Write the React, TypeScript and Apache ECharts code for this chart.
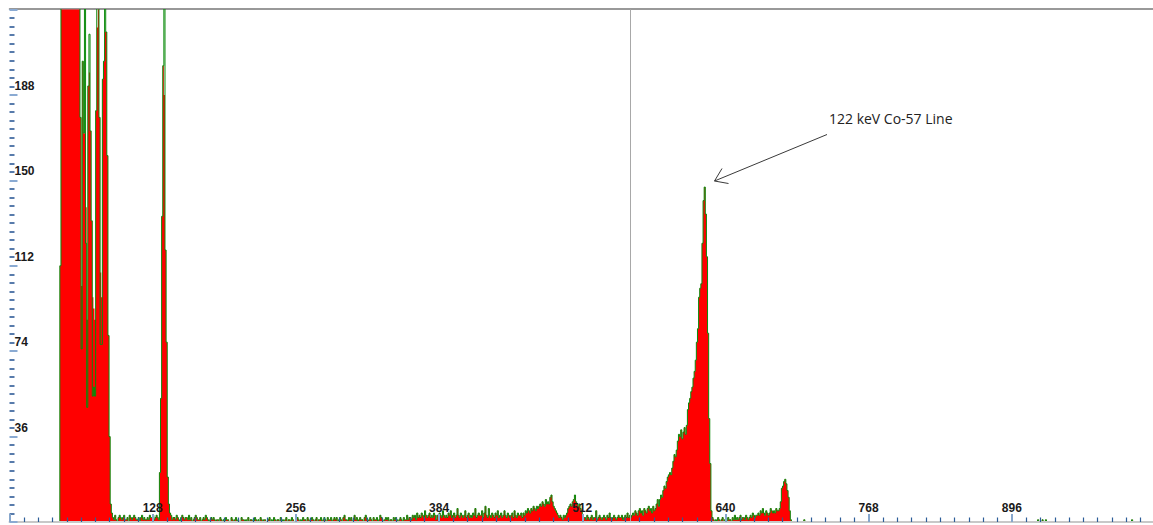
import React, { useEffect, useRef } from 'react';
import * as echarts from 'echarts';

// ---- axes ----
const CHANNELS = 1024;
const xTickStep = 128;
const yMax = 228;
const yTickStep = 38;
const yTickLabels = ['36', '74', '112', '150', '188'];
const cursorChannel = 555;
const annotationText = '122 keV Co-57 Line';

// ---- spectrum (red fill counts per channel), segments with their first channel ----
const lowClusterStart = 45;
const lowCluster = [
  114, 250, 262, 270, 268, 255, 260, 265, 258, 249, 262, 270, 255, 248, 260, 252, 240, 236,
  180, 105, 205, 173, 173, 140, 90, 194, 200, 174, 134, 100, 95, 90, 183, 220, 250, 180, 111, 100,
  197, 205, 218, 218, 163, 83, 38, 8,
];
const noiseAStart = 91;
const noiseA = [4, 2, 1, 3, 1, 0, 2, 3, 2, 1, 2, 3, 1, 1, 2, 0, 3, 2, 1, 2, 3, 2, 1, 1, 2, 0, 2, 3, 1, 2, 1, 1, 2, 1, 3, 2, 2, 3, 1, 2, 3, 2, 1];
const peak128Start = 134;
const peak128 = [22, 55, 136, 203, 190, 121, 80, 20, 8, 4];
const noiseBStart = 144;
const noiseB = [
  3, 1, 2, 2, 1, 3, 2, 1, 0, 2, 3, 2, 1, 2, 2, 1, 3, 1, 2, 0, 1, 2, 3, 2, 1, 1, 2, 0, 1, 2, 1, 3, 2, 1, 0, 1, 2, 1, 2, 1,
  0, 1, 1, 0, 2, 1, 0, 1, 0, 2, 1, 1, 0, 0, 2, 1, 0, 1, 2, 0, 1, 0, 0, 2, 1, 1, 0, 1, 0, 2, 0, 1, 1, 0, 0, 2, 1, 0, 1, 0, 2, 1, 0, 1, 1, 0, 0, 1, 2, 0,
  1, 0, 2, 1, 0, 1, 1, 0, 2, 0, 1, 0, 1, 2, 0, 1, 1, 0, 2, 1, 0, 0, 1, 2, 1, 0, 1, 0, 2, 1, 1, 0, 2, 1, 0, 1, 2, 1, 0, 1, 2, 0, 1, 1, 2, 0, 1, 2, 1, 0, 2, 1, 1, 2, 0, 1, 2,
];
const noiseCStart = 291;
const noiseC = [
  1, 2, 0, 1, 2, 1, 0, 2, 3, 1, 1, 0, 2, 1, 2, 0, 1, 3, 1, 2, 0, 1, 2, 1, 1, 0, 2, 3, 1, 0, 1, 2, 1, 0, 2, 1, 1, 2, 0, 1, 3, 2, 1, 0, 1, 2, 1, 2, 0, 1, 1, 0, 2, 1, 2, 1, 0, 1, 2, 1, 0, 2, 1, 1, 3, 1, 2, 2, 1, 3,
  2, 3, 1, 4, 2, 3, 2, 4, 3, 2, 5, 3, 2, 3, 4, 2, 3, 2, 4, 3, 1, 3, 2, 4, 3, 2, 5, 3, 2, 3, 2, 4, 3, 5, 2, 3, 4, 2, 3, 6, 3, 2, 4, 3, 2, 3, 5, 2, 3, 4, 2, 3, 2, 4, 3, 6, 2, 3, 4, 3,
];
const riseAStart = 421;
const riseA = [
  3, 5, 2, 4, 7, 3, 2, 6, 3, 2, 4,
  3, 2, 4, 3, 5, 2, 3, 4, 2, 3, 5, 3, 2, 4, 3, 2, 3, 4, 2, 5, 3, 2, 4, 3, 3, 4, 2,
  4, 3, 5, 4, 6, 5, 4, 6, 5, 7, 6, 5, 7,
];
const bumpAStart = 472;
const bumpA = [6, 7, 8, 7, 9, 8, 7, 10, 8, 9, 8, 11, 12, 9, 7, 6, 5, 4];
const dipAStart = 490;
const dipA = [3, 2, 3, 2, 1, 3, 2, 3];
const bumpBStart = 498;
const bumpB = [4, 6, 7, 8, 7, 9, 10, 12, 9, 8, 7, 8, 6, 5, 3, 2];
const valleyStart = 514;
const valley = [
  2, 1, 3, 2, 1, 2, 3, 1, 2, 2, 5, 1, 2, 3, 2, 1, 2, 3, 2, 1, 3, 2, 4, 2, 1, 2, 3, 2, 1, 2, 3, 2,
  2, 3, 1, 2, 3, 2, 4, 2, 3, 2,
  3, 4, 3, 5, 4, 3, 5, 6, 4, 5, 3, 6, 5, 4, 6, 7, 5, 6, 4, 7, 5, 6, 8, 10, 7,
];
const mainPeakStart = 581;
const mainPeak = [
  10, 12, 11, 14, 16, 15, 18, 20, 21, 22, 21, 24, 27, 30, 29, 32, 36, 39, 38, 41,
  37, 40, 42, 39, 43, 50, 53, 55, 58, 60, 64, 67, 72, 80, 86, 100, 104, 106, 124, 143,
  149, 137, 118, 84, 46, 26, 5, 2, 1, 0,
];
const tailAStart = 631;
const tailA = [
  1, 0, 2, 1, 0, 1, 2, 0, 1, 1, 0, 2, 1, 1, 0, 2, 1, 3, 1, 2, 1, 2, 3, 1, 2, 2, 1, 3, 2, 1, 2, 3, 2, 4, 3, 2, 3,
  3, 4, 3, 5, 4, 6, 4, 3, 5, 4, 3, 4, 6, 5, 4, 5, 4, 6, 5, 5,
];
const smallPeakStart = 688;
const smallPeak = [6, 9, 15, 16, 18, 19, 17, 14, 11, 5, 1];
const sparseCounts: [number, number][] = [[710, 1], [919, 1], [923, 1], [926, 1], [1003, 1]];
// channels where the green outline trace differs from the red fill
const greenOverrides: [number, number][] = [
  [64, 77], [67, 260], [68, 124], [69, 51], [71, 217], [74, 56], [75, 60], [76, 56], [78, 260],
  [81, 79], [82, 79], [85, 260], [138, 260],
];

export default function App() {
  const ref = useRef<HTMLDivElement>(null);
  useEffect(() => {
    if (!ref.current) return;
    const counts: number[] = new Array(CHANNELS).fill(0);
    const segs: [number, number[]][] = [
      [lowClusterStart, lowCluster], [noiseAStart, noiseA], [peak128Start, peak128], [noiseBStart, noiseB],
      [noiseCStart, noiseC], [riseAStart, riseA], [bumpAStart, bumpA], [dipAStart, dipA], [bumpBStart, bumpB],
      [valleyStart, valley], [mainPeakStart, mainPeak], [tailAStart, tailA], [smallPeakStart, smallPeak],
    ];
    segs.forEach(([s, arr]) => arr.forEach((v, i) => { if (s + i < CHANNELS) counts[s + i] = v; }));
    sparseCounts.forEach(([c, v]) => { counts[c] = v; });
    const green = counts.slice();
    greenOverrides.forEach(([c, v]) => { green[c] = v; });

    const redData: any[] = counts.map((v, i) => [i, v]);
    redData.push([CHANNELS, counts[CHANNELS - 1]]);

    const greenData: any[] = [];
    let c = 0;
    while (c < CHANNELS) {
      if (green[c] <= 0) { c++; continue; }
      greenData.push([c, 0]);
      while (c < CHANNELS && green[c] > 0) { greenData.push([c, green[c]]); c++; }
      greenData.push([c, green[c - 1]]);
      greenData.push([c, 0]);
      greenData.push([c, '-']);
    }

    const chart = echarts.init(ref.current, undefined, { renderer: 'svg' });
    const labelFont = { color: '#1a1a1a', fontWeight: 'bold' as const, fontSize: 12, fontFamily: 'Liberation Sans, Arial, sans-serif' };
    chart.setOption({
      animation: false,
      backgroundColor: '#ffffff',
      grid: { left: 9.5, right: -2, top: 9.5, bottom: 3, outerBoundsMode: 'none' },
      xAxis: [
        {
          type: 'value', min: 0, max: CHANNELS, interval: xTickStep, position: 'bottom', z: 5,
          axisLine: { show: true, lineStyle: { color: '#c8c8c8', width: 2 } },
          axisTick: { show: true, inside: true, length: 8, lineStyle: { color: '#86a6cc', width: 2 } },
          minorTick: { show: true, splitNumber: 10, length: 4.5, lineStyle: { color: '#2c5d98', width: 1.2 } },
          axisLabel: {
            inside: true, margin: 8, ...labelFont,
            formatter: (v: number) => (v > 0 && v < CHANNELS ? String(v) : ''),
          },
          splitLine: { show: false },
        },
        {
          type: 'value', min: 0, max: CHANNELS, position: 'top', offset: 1,
          axisLine: { show: true, lineStyle: { color: '#777777', width: 1.5 } },
          axisTick: { show: false }, axisLabel: { show: false }, splitLine: { show: false },
        },
      ],
      yAxis: {
        type: 'value', min: 0, max: yMax, interval: yTickStep, z: 5,
        axisLine: { show: false },
        axisTick: { show: true, inside: true, length: 8, lineStyle: { color: '#8aaad2', width: 2 } },
        minorTick: { show: true, splitNumber: 10, length: 5, lineStyle: { color: '#1f4f8f', width: 1.5 } },
        axisLabel: {
          inside: true, margin: 5, verticalAlign: 'bottom', lineHeight: 18, ...labelFont,
          formatter: (v: number) => {
            const k = Math.round(v / yTickStep);
            return k >= 1 && k <= yTickLabels.length ? yTickLabels[k - 1] : '';
          },
        },
        splitLine: { show: false },
      },
      series: [
        {
          name: 'fill', type: 'line', step: 'end', data: redData, symbol: 'none', silent: true, z: 2,
          lineStyle: { width: 0, opacity: 0 },
          areaStyle: { color: '#ff0000', opacity: 1 },
          markLine: {
            silent: true, symbol: 'none', label: { show: false },
            lineStyle: { color: '#a8a8a8', width: 1, type: 'solid' },
            data: [{ xAxis: cursorChannel }],
          },
        },
        {
          name: 'outline', type: 'line', step: 'end', data: greenData, symbol: 'none', silent: true, z: 3,
          connectNulls: false,
          lineStyle: { color: '#0a8a0a', width: 1 },
        },
      ],
      graphic: [
        {
          type: 'text', x: 829, y: 118, z: 10,
          style: { text: annotationText, fill: '#222222', fontSize: 14, fontFamily: 'Open Sans', verticalAlign: 'middle' },
        },
        { type: 'line', z: 10, shape: { x1: 827, y1: 134.5, x2: 714.5, y2: 181 }, style: { stroke: '#3a3a3a', lineWidth: 1 } },
        {
          type: 'polyline', z: 10, shape: { points: [[722, 168.5], [714.5, 181], [728.5, 183.5]] },
          style: { stroke: '#3a3a3a', lineWidth: 1, fill: null },
        },
      ],
    });
    return () => chart.dispose();
  }, []);
  return <div ref={ref} style={{ position: 'fixed', left: 0, top: 0, width: 1153, height: 525 }} />;
}
